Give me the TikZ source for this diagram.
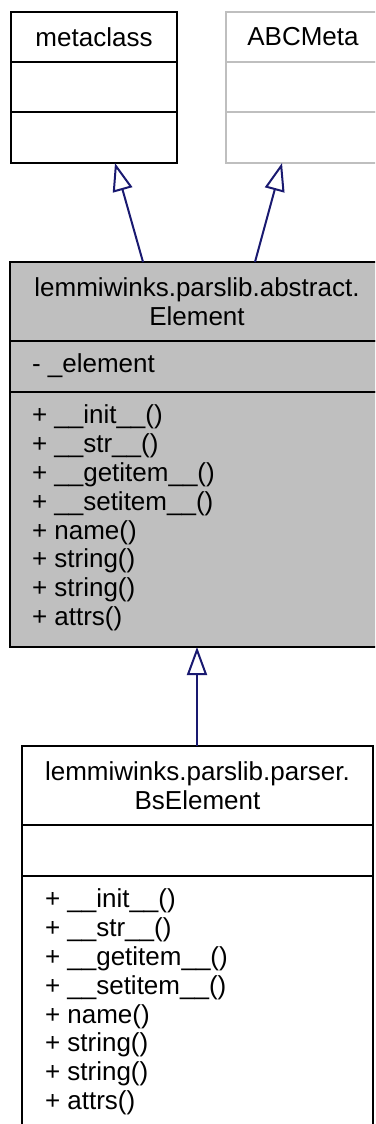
\documentclass[tikz,border=0pt]{standalone}
\usepackage{fontspec}
\setmainfont{Liberation Sans}
\usetikzlibrary{arrows.meta,calc}
\definecolor{boxgray}{HTML}{BFBFBF}
\definecolor{edgeblue}{HTML}{191970}
\tikzset{
  cell/.style={draw=black, line width=2pt, inner sep=0pt, outer sep=0pt, rectangle,
    font=\fontsize{26}{28.8}\selectfont, align=center},
  graycell/.style={cell, draw=boxgray},
  filledcell/.style={cell, fill=boxgray},
  txt/.style={inner sep=0pt, outer sep=0pt, anchor=west, align=left,
    font=\fontsize{26}{28.8}\selectfont},
  inh/.style={draw=edgeblue, line width=2pt,
    -{Triangle[open, length=28pt, width=20pt, fill=white, line width=2pt]}}
}
\begin{document}
\begin{tikzpicture}[x=1pt,y=-1pt]
\useasboundingbox (0,0) rectangle (375,1124);
\clip (0,0) rectangle (375,1124);
% metaclass
\node[cell, minimum width=166pt, minimum height=50pt] (metaT) at (94,37) {metaclass};
\node[cell, minimum width=166pt, minimum height=50pt] (metaA) at (94,87) {};
\node[cell, minimum width=166pt, minimum height=51pt] (metaB) at (94,137.5) {};
% ABCMeta
\node[graycell, minimum width=154pt, minimum height=50pt] (abcT) at (303,37) {ABCMeta};
\node[graycell, minimum width=154pt, minimum height=50pt] (abcA) at (303,87) {};
\node[graycell, minimum width=154pt, minimum height=51pt] (abcB) at (303,137.5) {};
% Element
\node[filledcell, minimum width=374pt, minimum height=79pt] (elemT) at (197,301.5) {lemmiwinks.parslib.abstract.\\Element};
\node[filledcell, minimum width=374pt, minimum height=51pt] (elemA) at (197,366.5) {};
\node[filledcell, minimum width=374pt, minimum height=255pt] (elemM) at (197,519.5) {};
\node[txt] (elemAtxt) at (32,366) {- \_element};
\node[txt] (elemMtxt) at (32,518) {+ \_\_init\_\_()\\+ \_\_str\_\_()\\+ \_\_getitem\_\_()\\+ \_\_setitem\_\_()\\+ name()\\+ string()\\+ string()\\+ attrs()};
% BsElement
\node[cell, minimum width=351pt, minimum height=79pt] (bsT) at (197.5,785.5) {lemmiwinks.parslib.parser.\\BsElement};
\node[cell, minimum width=351pt, minimum height=51pt] (bsA) at (197.5,850.5) {};
\node[cell, minimum width=351pt, minimum height=254pt] (bsM) at (197.5,1003) {};
\node[txt] (bsMtxt) at (45,1002) {+ \_\_init\_\_()\\+ \_\_str\_\_()\\+ \_\_getitem\_\_()\\+ \_\_setitem\_\_()\\+ name()\\+ string()\\+ string()\\+ attrs()};
% inheritance edges
\draw[inh] ($(elemT.north)+(-54,0)$) -- ($(metaB.south)+(21,0)$);
\draw[inh] ($(elemT.north)+(58,0)$) -- ($(abcB.south)+(-21,0)$);
\draw[inh] ($(bsT.north)+(-0.5,0)$) -- (elemM.south);
\end{tikzpicture}
\end{document}
